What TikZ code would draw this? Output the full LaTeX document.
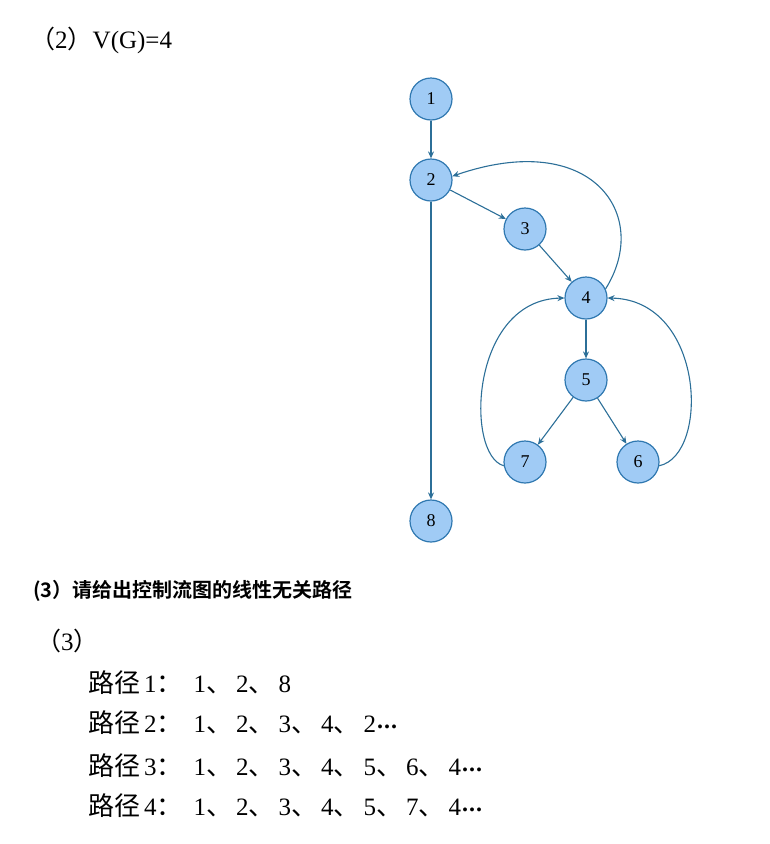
\documentclass[tikz,border=0pt]{standalone}
\usepackage{fontspec}
\setmainfont{Liberation Serif}
\newfontfamily\cjk{Noto Sans CJK SC}
\newfontfamily\cjkb{Noto Sans CJK SC Bold}
\usetikzlibrary{arrows.meta}

\definecolor{nodefill}{HTML}{A0CBF5}
\definecolor{nodeline}{HTML}{2F78B0}
\definecolor{edgecol}{HTML}{2C6F98}

\newcommand{\lj}{{\cjk\fontsize{26}{30}\selectfont 路径}}
\newcommand{\dn}{\makebox[30pt][l]{\cjk\fontsize{26}{30}\selectfont 、}}
\newcommand{\mh}{\makebox[37pt][l]{\cjk\fontsize{26}{30}\selectfont ：}}
\newcommand{\dd}{\raisebox{4pt}{\fontsize{24}{28}\selectfont\textbf{\kern1pt.\kern1pt.\kern1pt.}}}

\tikzset{
    vtx/.style={circle, draw=nodeline, fill=nodefill, line width=1.2pt, minimum size=42pt, inner sep=0pt, font=\fontsize{18}{20}\selectfont},
    edge/.style={draw=edgecol, line width=1.1pt, -{Stealth[length=7pt,width=6pt]}},
    txt/.style={anchor=base west, inner sep=0pt}
}

\begin{document}
\begin{tikzpicture}[x=1pt,y=-1pt]
        \useasboundingbox (0,0) rectangle (769,844);

        \node[txt, font=\fontsize{25}{28}\selectfont] (t2) at (30,48) {{\cjk （}2{\cjk ）}V(G)=4};

        % flow graph
        \node[vtx] (n1) at (431,99) {1};
        \node[vtx] (n2) at (431,180) {2};
        \node[vtx] (n3) at (525,229) {3};
        \node[vtx] (n4) at (586,298) {4};
        \node[vtx] (n5) at (586,380) {5};
        \node[vtx] (n7) at (525,462) {7};
        \node[vtx] (n6) at (638,462) {6};
        \node[vtx] (n8) at (431,521) {8};

        \draw[edge] (n1) -- (n2);
        \draw[edge] (n2) -- (n3);
        \draw[edge] (n3) -- (n4);
        \draw[edge] (n2) -- (n8);
        \draw[edge] (n4) -- (n5);
        \draw[edge] (n5) -- (n7);
        \draw[edge] (n5) -- (n6);
        \draw[edge] (n4.25) .. controls (652,215) and (592,128) .. (n2.10);
        \draw[edge] (n7.190) .. controls (465,455) and (470,300) .. (n4.west);
        \draw[edge] (n6.350) .. controls (710,455) and (705,300) .. (n4.east);

        % answer
        \node[txt, font=\cjkb\fontsize{20}{24}\selectfont] (t3h) at (33,597) {(3）请给出控制流图的线性无关路径};
        \node[txt, font=\fontsize{25}{30}\selectfont] (t3) at (36,650) {{\cjk （}3{\cjk ）}};
        \node[txt, font=\fontsize{25}{28}\selectfont] (p1) at (88,692) {\lj\kern4pt 1\mh 1\dn 2\dn 8};
        \node[txt, font=\fontsize{25}{28}\selectfont] (p2) at (88,732) {\lj\kern4pt 2\mh 1\dn 2\dn 3\dn 4\dn 2\dd};
        \node[txt, font=\fontsize{25}{28}\selectfont] (p3) at (88,775) {\lj\kern4pt 3\mh 1\dn 2\dn 3\dn 4\dn 5\dn 6\dn 4\dd};
        \node[txt, font=\fontsize{25}{28}\selectfont] (p4) at (88,815) {\lj\kern4pt 4\mh 1\dn 2\dn 3\dn 4\dn 5\dn 7\dn 4\dd};
    \end{tikzpicture}
\end{document}
